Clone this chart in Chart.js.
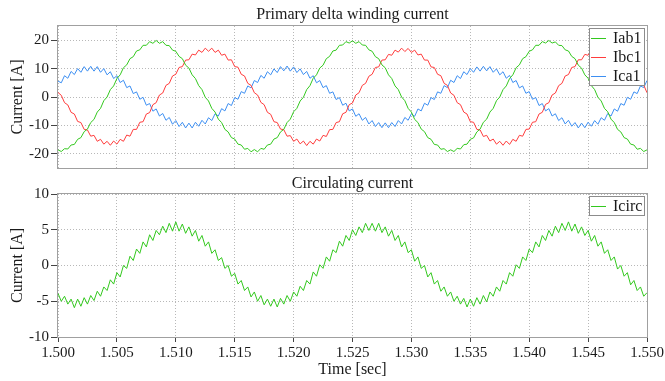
<!DOCTYPE html>
<html>
<head>
<meta charset="utf-8">
<title>Primary delta winding current / Circulating current</title>
<script src="https://cdn.jsdelivr.net/npm/chart.js@4.4.1/dist/chart.umd.min.js"></script>
<style>
  html, body { margin: 0; padding: 0; background: #fff; }
  #wrap { position: relative; width: 665px; height: 381px; }
  canvas { position: absolute; left: 0; }
  #topChart { top: 0; }
  #botChart { top: 175px; }
</style>
</head>
<body>
<div id="wrap">
  <canvas id="topChart" width="665" height="175"></canvas>
  <canvas id="botChart" width="665" height="206"></canvas>
</div>
<script>
// samples: one every 1/3600 s (6 electrical degrees at 60 Hz), 1.500 .. 1.550 s
const T0 = 1.5;
const DT = 1 / 3600;

const X_TICKS = [1.500, 1.505, 1.510, 1.515, 1.520, 1.525, 1.530, 1.535, 1.540, 1.545, 1.550];
const TOP_Y_TICKS = [-20, -10, 0, 10, 20];
const BOT_Y_TICKS = [-10, -5, 0, 5, 10];

// primary delta winding currents [A]
const IAB1 = [
  -18.6, -19.2, -18.2, -18.3, -16.9, -16.7, -14.9, -14.3, -12.2, -11.3, -9.0, -7.9, -5.3, -4.0, -1.3, 0.0, 2.6, 3.9, 6.5, 7.8,
  10.3, 11.3, 13.5, 14.2, 16.2, 16.6, 18.2, 18.2, 19.5, 18.9, 19.9, 18.9, 19.5, 18.2, 18.1, 16.5, 16.1, 14.3, 13.5, 11.2,
  10.2, 7.8, 6.5, 4.0, 2.6, -0.1, -1.4, -4.0, -5.3, -7.8, -9.0, -11.4, -12.3, -14.3, -14.8, -16.6, -16.9, -18.4, -18.1, -19.3,
  -18.5, -19.3, -18.1, -18.4, -16.9, -16.6, -14.8, -14.3, -12.3, -11.4, -9.0, -7.8, -5.2, -4.0, -1.4, -0.1, 2.6, 4.0, 6.6, 7.8,
  10.2, 11.2, 13.5, 14.3, 16.2, 16.5, 18.2, 18.3, 19.5, 19.0, 19.8, 18.9, 19.5, 18.3, 18.2, 16.6, 16.1, 14.2, 13.5, 11.3,
  10.3, 7.8, 6.5, 3.9, 2.6, 0.0, -1.3, -4.0, -5.3, -7.9, -9.0, -11.3, -12.2, -14.3, -14.9, -16.7, -16.9, -18.4, -18.2, -19.2,
  -18.6, -19.2, -18.1, -18.3, -16.8, -16.6, -14.9, -14.4, -12.3, -11.3, -8.9, -7.8, -5.3, -4.0, -1.3, 0.0, 2.6, 3.9, 6.5, 7.8,
  10.3, 11.3, 13.5, 14.2, 16.1, 16.6, 18.2, 18.2, 19.5, 19.0, 19.9, 19.0, 19.4, 18.2, 18.1, 16.6, 16.2, 14.3, 13.5, 11.2,
  10.2, 7.8, 6.6, 4.0, 2.6, -0.1, -1.4, -4.0, -5.2, -7.8, -9.0, -11.4, -12.3, -14.3, -14.8, -16.6, -16.9, -18.4, -18.1, -19.2,
  -18.6
];
const IBC1 = [
  1.6, 0.6, -2.0, -2.8, -5.4, -6.0, -8.6, -9.0, -11.4, -11.6, -13.8, -13.5, -15.6, -14.9, -16.6, -15.6, -17.0, -15.5, -16.6, -14.9,
  -15.6, -13.4, -13.8, -11.4, -11.4, -8.9, -8.7, -6.0, -5.5, -2.7, -2.0, 0.7, 1.4, 4.1, 4.8, 7.4, 8.0, 10.4, 10.7, 13.0,
  13.1, 15.1, 14.8, 16.5, 15.7, 17.2, 16.1, 17.2, 15.7, 16.5, 14.7, 15.1, 13.0, 13.1, 10.7, 10.5, 8.0, 7.4, 4.8, 4.1,
  1.5, 0.7, -1.9, -2.7, -5.4, -6.1, -8.7, -9.0, -11.3, -11.5, -13.8, -13.6, -15.6, -14.8, -16.5, -15.5, -17.1, -15.6, -16.6, -14.8,
  -15.5, -13.5, -13.9, -11.5, -11.4, -9.0, -8.7, -5.9, -5.4, -2.7, -2.1, 0.7, 1.5, 4.1, 4.8, 7.3, 8.0, 10.4, 10.6, 13.0,
  13.1, 15.0, 14.7, 16.5, 15.8, 17.2, 16.0, 17.1, 15.7, 16.5, 14.8, 15.1, 13.0, 13.0, 10.6, 10.4, 8.0, 7.5, 4.8, 4.1,
  1.4, 0.6, -2.0, -2.7, -5.3, -6.0, -8.7, -8.9, -11.4, -11.6, -13.9, -13.5, -15.5, -14.8, -16.6, -15.6, -17.0, -15.5, -16.7, -14.9,
  -15.6, -13.5, -13.8, -11.4, -11.3, -8.9, -8.7, -6.0, -5.4, -2.6, -2.0, 0.7, 1.4, 4.0, 4.8, 7.4, 7.9, 10.4, 10.7, 13.1,
  13.1, 15.0, 14.7, 16.5, 15.7, 17.1, 16.1, 17.2, 15.8, 16.5, 14.7, 15.0, 13.0, 13.1, 10.7, 10.4, 7.9, 7.4, 4.8, 4.2,
  1.5
];
const ICA1 = [
  5.6, 5.0, 7.5, 6.6, 9.0, 7.9, 10.0, 8.7, 10.7, 9.1, 10.8, 9.1, 10.7, 8.7, 10.0, 7.8, 8.9, 6.5, 7.5, 5.1,
  5.9, 3.3, 3.9, 1.2, 1.8, -0.8, -0.1, -2.9, -2.3, -5.0, -4.2, -6.7, -5.8, -8.2, -7.2, -9.6, -8.3, -10.4, -8.9, -10.9,
  -9.2, -10.9, -8.9, -10.3, -8.2, -9.5, -7.3, -8.3, -5.9, -6.7, -4.1, -4.9, -2.3, -3.0, -0.2, -0.8, 1.9, 1.3, 3.9, 3.2,
  5.8, 5.1, 7.6, 6.6, 8.9, 7.8, 9.9, 8.6, 10.7, 9.2, 10.9, 9.1, 10.6, 8.6, 9.9, 7.9, 9.0, 6.6, 7.5, 5.0,
  5.8, 3.3, 4.0, 1.3, 1.8, -0.9, -0.2, -2.9, -2.2, -4.9, -4.2, -6.8, -5.9, -8.2, -7.2, -9.5, -8.3, -10.4, -9.0, -10.8,
  -9.1, -10.8, -9.0, -10.4, -8.3, -9.5, -7.2, -8.2, -5.9, -6.8, -4.2, -4.9, -2.2, -2.9, -0.2, -0.9, 1.8, 1.3, 4.0, 3.3,
  5.9, 5.1, 7.5, 6.5, 8.9, 7.9, 10.0, 8.7, 10.6, 9.1, 10.8, 9.2, 10.7, 8.7, 9.9, 7.8, 8.9, 6.6, 7.6, 5.1,
  5.8, 3.2, 3.9, 1.3, 1.9, -0.8, -0.2, -3.0, -2.3, -4.9, -4.1, -6.7, -5.9, -8.3, -7.3, -9.5, -8.2, -10.3, -9.0, -10.9,
  -9.2, -10.8, -8.9, -10.3, -8.3, -9.6, -7.3, -8.2, -5.8, -6.7, -4.2, -5.0, -2.3, -2.9, -0.1, -0.8, 1.8, 1.2, 3.9, 3.3,
  5.8
];

// circulating current [A]
const ICIRC = [
  -3.9, -5.0, -4.3, -5.4, -4.7, -5.9, -4.7, -5.7, -4.5, -5.4, -4.2, -4.9, -3.6, -4.3, -3.0, -3.5, -2.0, -2.6, -1.0, -1.6,
  0.0, -0.4, 1.3, 0.7, 2.3, 1.7, 3.3, 2.6, 4.3, 3.5, 4.9, 4.3, 5.5, 4.6, 5.9, 4.8, 6.1, 4.8, 5.8, 4.5,
  5.4, 4.1, 4.9, 3.4, 4.2, 2.7, 3.3, 1.7, 2.2, 0.7, 1.1, -0.4, 0.0, -1.5, -1.1, -2.6, -2.1, -3.5, -3.0, -4.4,
  -3.7, -5.0, -4.2, -5.5, -4.7, -5.7, -4.7, -5.8, -4.6, -5.4, -4.2, -5.0, -3.7, -4.3, -2.9, -3.5, -2.1, -2.6, -0.9, -1.5,
  0.1, -0.4, 1.2, 0.6, 2.2, 1.8, 3.4, 2.7, 4.2, 3.5, 5.0, 4.2, 5.4, 4.6, 5.9, 4.9, 5.9, 4.8, 5.9, 4.6,
  5.4, 4.1, 4.9, 3.5, 4.2, 2.6, 3.3, 1.8, 2.2, 0.6, 1.2, -0.4, 0.0, -1.6, -1.0, -2.6, -2.1, -3.6, -3.0, -4.3,
  -3.7, -5.0, -4.3, -5.4, -4.6, -5.8, -4.7, -5.7, -4.5, -5.4, -4.2, -5.1, -3.7, -4.3, -3.0, -3.6, -2.1, -2.6, -1.0, -1.5,
  0.1, -0.4, 1.2, 0.7, 2.3, 1.8, 3.3, 2.6, 4.2, 3.5, 4.9, 4.1, 5.5, 4.6, 5.9, 4.9, 6.1, 4.8, 5.8, 4.5,
  5.4, 4.2, 4.9, 3.4, 4.2, 2.7, 3.3, 1.7, 2.2, 0.7, 1.2, -0.5, 0.0, -1.5, -1.0, -2.7, -2.1, -3.5, -3.0, -4.3,
  -3.8
];

const GREEN = '#33c81e';
const RED = '#ff3c3c';
const BLUE = '#3d8ff2';
const GRID = '#b8b8b8';
const FRAME = '#a0a0a0';
const TICK = '#444';
const SERIF = "'Liberation Serif', 'Times New Roman', serif";

Chart.defaults.font.family = SERIF;
Chart.defaults.font.size = 15;
Chart.defaults.color = '#1a1a1a';

function points(values) {
  return values.map((v, i) => ({ x: T0 + i * DT, y: v }));
}

function line(label, values, color) {
  return {
    label: label,
    data: points(values),
    borderColor: color,
    backgroundColor: color,
    borderWidth: 1,
    pointRadius: 0,
    tension: 0
  };
}

// gray box round the plot area
const framePlugin = {
  id: 'frame',
  afterDatasetsDraw(chart) {
    const { ctx, chartArea: a } = chart;
    ctx.save();
    ctx.strokeStyle = FRAME;
    ctx.lineWidth = 1;
    ctx.strokeRect(a.left - 0.5, a.top - 0.5, a.right - a.left + 1, a.bottom - a.top + 1);
    ctx.restore();
  }
};

// title centred over the plot area (not the whole canvas)
const plotTitle = {
  id: 'plotTitle',
  afterDraw(chart, args, opts) {
    const { ctx, chartArea: a } = chart;
    ctx.save();
    ctx.font = '16px ' + SERIF;
    ctx.fillStyle = '#1a1a1a';
    ctx.textAlign = 'center';
    ctx.textBaseline = 'middle';
    ctx.fillText(opts.text, (a.left + a.right) / 2, opts.y);
    ctx.restore();
  }
};

// boxed legend in the upper right corner of the plot
const boxLegend = {
  id: 'boxLegend',
  afterDraw(chart) {
    const { ctx, chartArea: a } = chart;
    const sets = chart.data.datasets;
    const rowH = 19;
    const w = 55;
    const x0 = a.right - 3 - w;
    const y0 = a.top + 2;
    const h = rowH * sets.length;
    ctx.save();
    ctx.fillStyle = '#fff';
    ctx.fillRect(x0, y0, w, h);
    ctx.strokeStyle = '#8c8c8c';
    ctx.lineWidth = 1;
    ctx.strokeRect(x0 + 0.5, y0 + 0.5, w, h);
    ctx.font = '16px ' + SERIF;
    ctx.textBaseline = 'middle';
    ctx.textAlign = 'left';
    sets.forEach((ds, k) => {
      const cy = y0 + rowH / 2 + k * rowH + 0.5;
      ctx.strokeStyle = ds.borderColor;
      ctx.beginPath();
      ctx.moveTo(x0 + 2, Math.round(cy) + 0.5);
      ctx.lineTo(x0 + 17, Math.round(cy) + 0.5);
      ctx.stroke();
      ctx.fillStyle = '#1a1a1a';
      ctx.fillText(ds.label, x0 + 24, cy + 1);
    });
    ctx.restore();
  }
};

function xScale(withLabels) {
  return {
    type: 'linear',
    min: T0,
    max: X_TICKS[X_TICKS.length - 1],
    afterBuildTicks: s => { s.ticks = X_TICKS.map(v => ({ value: v })); },
    afterFit: s => { s.height = withLabels ? 44 : 7; s.paddingLeft = 0; s.paddingRight = 0; },
    ticks: {
      display: withLabels,
      autoSkip: false,
      maxRotation: 0,
      padding: 2,
      callback: v => v.toFixed(3)
    },
    grid: { color: GRID, drawTicks: withLabels, tickLength: 5, tickColor: TICK },
    border: { display: false, dash: [1, 2] },
    title: {
      display: withLabels,
      text: 'Time [sec]',
      font: { size: 16 },
      padding: { top: 0, bottom: 2 }
    }
  };
}

function yScale(min, max, tickValues) {
  return {
    min: min,
    max: max,
    afterBuildTicks: s => { s.ticks = tickValues.map(v => ({ value: v })); },
    afterFit: s => { s.width = 58; s.paddingTop = 0; s.paddingBottom = 0; },
    ticks: { padding: 2, autoSkip: false },
    grid: { color: GRID, tickLength: 7, tickColor: TICK },
    border: { display: false, dash: [1, 2] },
    title: {
      display: true,
      text: 'Current [A]',
      font: { size: 16 },
      padding: { top: 8, bottom: 0 }
    }
  };
}

function makeChart(id, title, titleY, padTop, datasets, yMin, yMax, yTicks, withX) {
  return new Chart(document.getElementById(id), {
    type: 'line',
    data: { datasets: datasets },
    options: {
      responsive: false,
      animation: false,
      devicePixelRatio: 1,
      layout: { padding: { left: 0, right: 18, top: padTop, bottom: 0 } },
      scales: {
        x: xScale(withX),
        y: yScale(yMin, yMax, yTicks)
      },
      plugins: {
        legend: { display: false },
        tooltip: { enabled: false },
        title: { display: false },
        plotTitle: { text: title, y: titleY }
      }
    },
    plugins: [framePlugin, plotTitle, boxLegend]
  });
}

makeChart('topChart', 'Primary delta winding current', 15, 26, [
  line('Iab1', IAB1, GREEN),
  line('Ibc1', IBC1, RED),
  line('Ica1', ICA1, BLUE)
], -25, 25, TOP_Y_TICKS, false);

makeChart('botChart', 'Circulating current', 9, 19, [
  line('Icirc', ICIRC, GREEN)
], -10, 10, BOT_Y_TICKS, true);
</script>
</body>
</html>
